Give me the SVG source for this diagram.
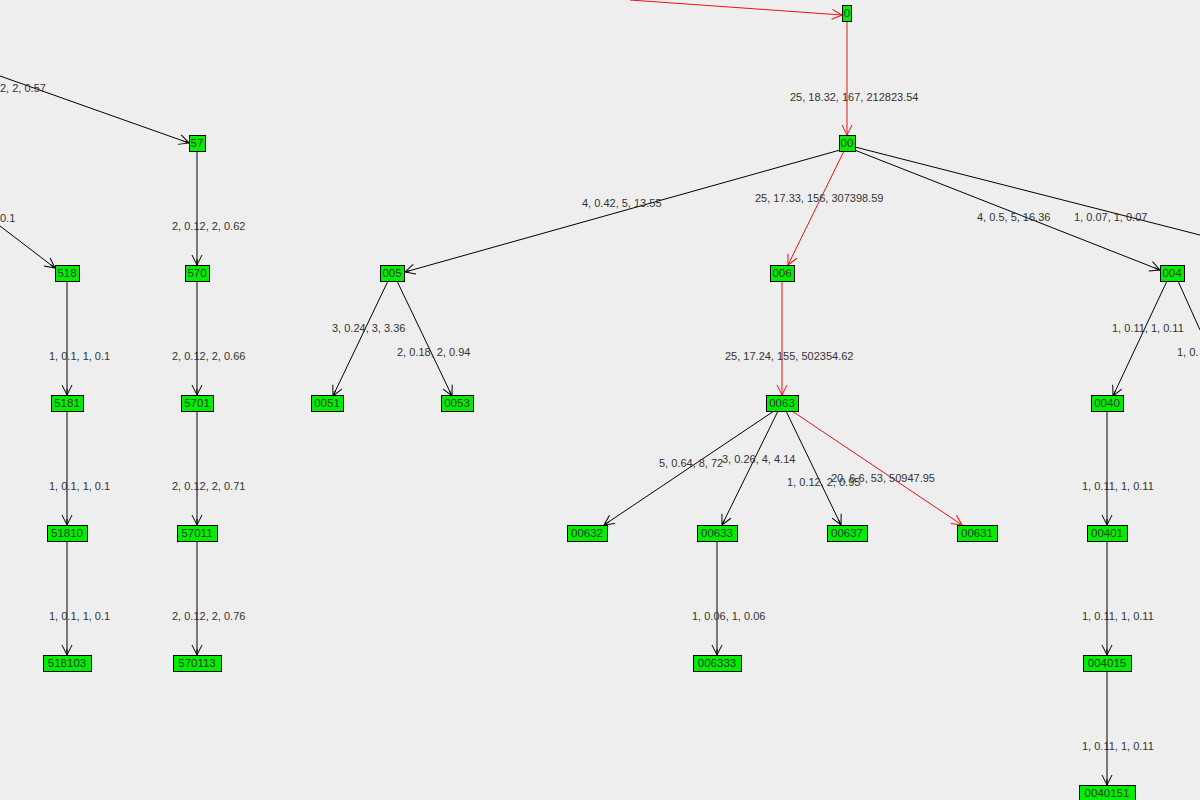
<svg xmlns="http://www.w3.org/2000/svg" width="1200" height="800" viewBox="0 0 1200 800">
<style>
.n rect{fill:#00ee00;stroke:#000;stroke-width:1}
.n text{font-family:"Liberation Sans",Arial,sans-serif;font-size:11.5px;fill:#333;text-anchor:middle}
.e line{stroke:#000;stroke-width:1;fill:none;marker-end:url(#a)}
.e line.r{stroke:#ee1111;marker-end:url(#ar)}
.e line.o{marker-end:none}
.l{font-family:"Liberation Sans",Arial,sans-serif;font-size:11px;fill:#333}
</style>
<defs>
<marker id="a" viewBox="0 0 12 12" refX="11" refY="6" markerWidth="12" markerHeight="12" markerUnits="userSpaceOnUse" orient="auto"><path d="M1,1 L11,6 L1,11 M5,6 L11,6" fill="none" stroke="#000"/></marker>
<marker id="ar" viewBox="0 0 12 12" refX="11" refY="6" markerWidth="12" markerHeight="12" markerUnits="userSpaceOnUse" orient="auto"><path d="M1,1 L11,6 L1,11" fill="none" stroke="#ee1111"/></marker>
</defs>
<rect width="1200" height="800" fill="#eeeeee"/>
<g id="connectors" class="e">
<line class="r" x1="630" y1="0" x2="842" y2="15"/>
<line class="r" x1="847" y1="21" x2="847" y2="135"/>
<line x1="0" y1="76" x2="189" y2="143"/>
<line x1="0" y1="226" x2="55" y2="268"/>
<line x1="197" y1="151" x2="197" y2="265"/>
<line x1="67" y1="281" x2="67" y2="395"/>
<line x1="197" y1="281" x2="197" y2="395"/>
<line x1="67" y1="411" x2="67" y2="525"/>
<line x1="197" y1="411" x2="197" y2="525"/>
<line x1="67" y1="541" x2="67" y2="655"/>
<line x1="197" y1="541" x2="197" y2="655"/>
<line x1="840" y1="150" x2="405" y2="272"/>
<line class="r" x1="844" y1="151" x2="788" y2="265"/>
<line x1="852" y1="149" x2="1160" y2="270"/>
<line class="o" x1="855" y1="147" x2="1200" y2="235"/>
<line x1="388" y1="281" x2="333" y2="396"/>
<line x1="397" y1="281" x2="452" y2="396"/>
<line class="r" x1="782" y1="281" x2="782" y2="395"/>
<line x1="774" y1="411" x2="604" y2="525"/>
<line x1="778" y1="411" x2="722" y2="525"/>
<line x1="786" y1="411" x2="841" y2="525"/>
<line class="r" x1="792" y1="411" x2="962" y2="525"/>
<line x1="717" y1="541" x2="717" y2="655"/>
<line x1="1167" y1="281" x2="1113" y2="396"/>
<line class="o" x1="1178" y1="281" x2="1200" y2="330"/>
<line x1="1107" y1="411" x2="1107" y2="525"/>
<line x1="1107" y1="541" x2="1107" y2="655"/>
<line x1="1107" y1="671" x2="1107" y2="785"/>
</g>
<g id="labels" class="l">
<text x="790" y="101">25, 18.32, 167, 212823.54</text>
<text x="0" y="92">2, 2, 0.57</text>
<text x="0" y="222">0.1</text>
<text x="172" y="230">2, 0.12, 2, 0.62</text>
<text x="172" y="360">2, 0.12, 2, 0.66</text>
<text x="172" y="490">2, 0.12, 2, 0.71</text>
<text x="172" y="620">2, 0.12, 2, 0.76</text>
<text x="49" y="360">1, 0.1, 1, 0.1</text>
<text x="49" y="490">1, 0.1, 1, 0.1</text>
<text x="49" y="620">1, 0.1, 1, 0.1</text>
<text x="582" y="207">4, 0.42, 5, 13.55</text>
<text x="755" y="202">25, 17.33, 156, 307398.59</text>
<text x="977" y="221">4, 0.5, 5, 16.36</text>
<text x="1074" y="221">1, 0.07, 1, 0.07</text>
<text x="332" y="332">3, 0.24, 3, 3.36</text>
<text x="397" y="356">2, 0.18, 2, 0.94</text>
<text x="725" y="360">25, 17.24, 155, 502354.62</text>
<text x="659" y="467">5, 0.64, 8, 72</text>
<text x="722" y="463">3, 0.26, 4, 4.14</text>
<text x="787" y="486">1, 0.12, 2, 0.95</text>
<text x="831" y="482">20, 6.6, 53, 50947.95</text>
<text x="692" y="620">1, 0.06, 1, 0.06</text>
<text x="1112" y="332">1, 0.11, 1, 0.11</text>
<text x="1177" y="356">1, 0.</text>
<text x="1082" y="490">1, 0.11, 1, 0.11</text>
<text x="1082" y="620">1, 0.11, 1, 0.11</text>
<text x="1082" y="750">1, 0.11, 1, 0.11</text>
</g>
<g id="n0" class="n"><rect x="842.5" y="5.5" width="9" height="16"/><text x="847" y="17">0</text></g>
<g id="n00" class="n"><rect x="839.5" y="135.5" width="16" height="16"/><text x="847" y="147">00</text></g>
<g id="n57" class="n"><rect x="189.5" y="135.5" width="16" height="16"/><text x="197" y="147">57</text></g>
<g id="n518" class="n"><rect x="55.5" y="265.5" width="24" height="16"/><text x="67" y="277">518</text></g>
<g id="n570" class="n"><rect x="185.5" y="265.5" width="24" height="16"/><text x="197" y="277">570</text></g>
<g id="n005" class="n"><rect x="380.5" y="265.5" width="24" height="16"/><text x="392" y="277">005</text></g>
<g id="n006" class="n"><rect x="770.5" y="265.5" width="24" height="16"/><text x="782" y="277">006</text></g>
<g id="n004" class="n"><rect x="1160.5" y="265.5" width="24" height="16"/><text x="1172" y="277">004</text></g>
<g id="n5181" class="n"><rect x="51.5" y="395.5" width="32" height="16"/><text x="67" y="407">5181</text></g>
<g id="n5701" class="n"><rect x="181.5" y="395.5" width="32" height="16"/><text x="197" y="407">5701</text></g>
<g id="n0051" class="n"><rect x="311.5" y="395.5" width="32" height="16"/><text x="327" y="407">0051</text></g>
<g id="n0053" class="n"><rect x="441.5" y="395.5" width="32" height="16"/><text x="457" y="407">0053</text></g>
<g id="n0063" class="n"><rect x="766.5" y="395.5" width="32" height="16"/><text x="782" y="407">0063</text></g>
<g id="n0040" class="n"><rect x="1091.5" y="395.5" width="32" height="16"/><text x="1107" y="407">0040</text></g>
<g id="n51810" class="n"><rect x="47.5" y="525.5" width="40" height="16"/><text x="67" y="537">51810</text></g>
<g id="n57011" class="n"><rect x="177.5" y="525.5" width="40" height="16"/><text x="197" y="537">57011</text></g>
<g id="n00632" class="n"><rect x="567.5" y="525.5" width="40" height="16"/><text x="587" y="537">00632</text></g>
<g id="n00633" class="n"><rect x="697.5" y="525.5" width="40" height="16"/><text x="717" y="537">00633</text></g>
<g id="n00637" class="n"><rect x="827.5" y="525.5" width="40" height="16"/><text x="847" y="537">00637</text></g>
<g id="n00631" class="n"><rect x="957.5" y="525.5" width="40" height="16"/><text x="977" y="537">00631</text></g>
<g id="n00401" class="n"><rect x="1087.5" y="525.5" width="40" height="16"/><text x="1107" y="537">00401</text></g>
<g id="n518103" class="n"><rect x="43.5" y="655.5" width="48" height="16"/><text x="67" y="667">518103</text></g>
<g id="n570113" class="n"><rect x="173.5" y="655.5" width="48" height="16"/><text x="197" y="667">570113</text></g>
<g id="n006333" class="n"><rect x="693.5" y="655.5" width="48" height="16"/><text x="717" y="667">006333</text></g>
<g id="n004015" class="n"><rect x="1083.5" y="655.5" width="48" height="16"/><text x="1107" y="667">004015</text></g>
<g id="n0040151" class="n"><rect x="1079.5" y="785.5" width="56" height="16"/><text x="1107" y="797">0040151</text></g>
</svg>
